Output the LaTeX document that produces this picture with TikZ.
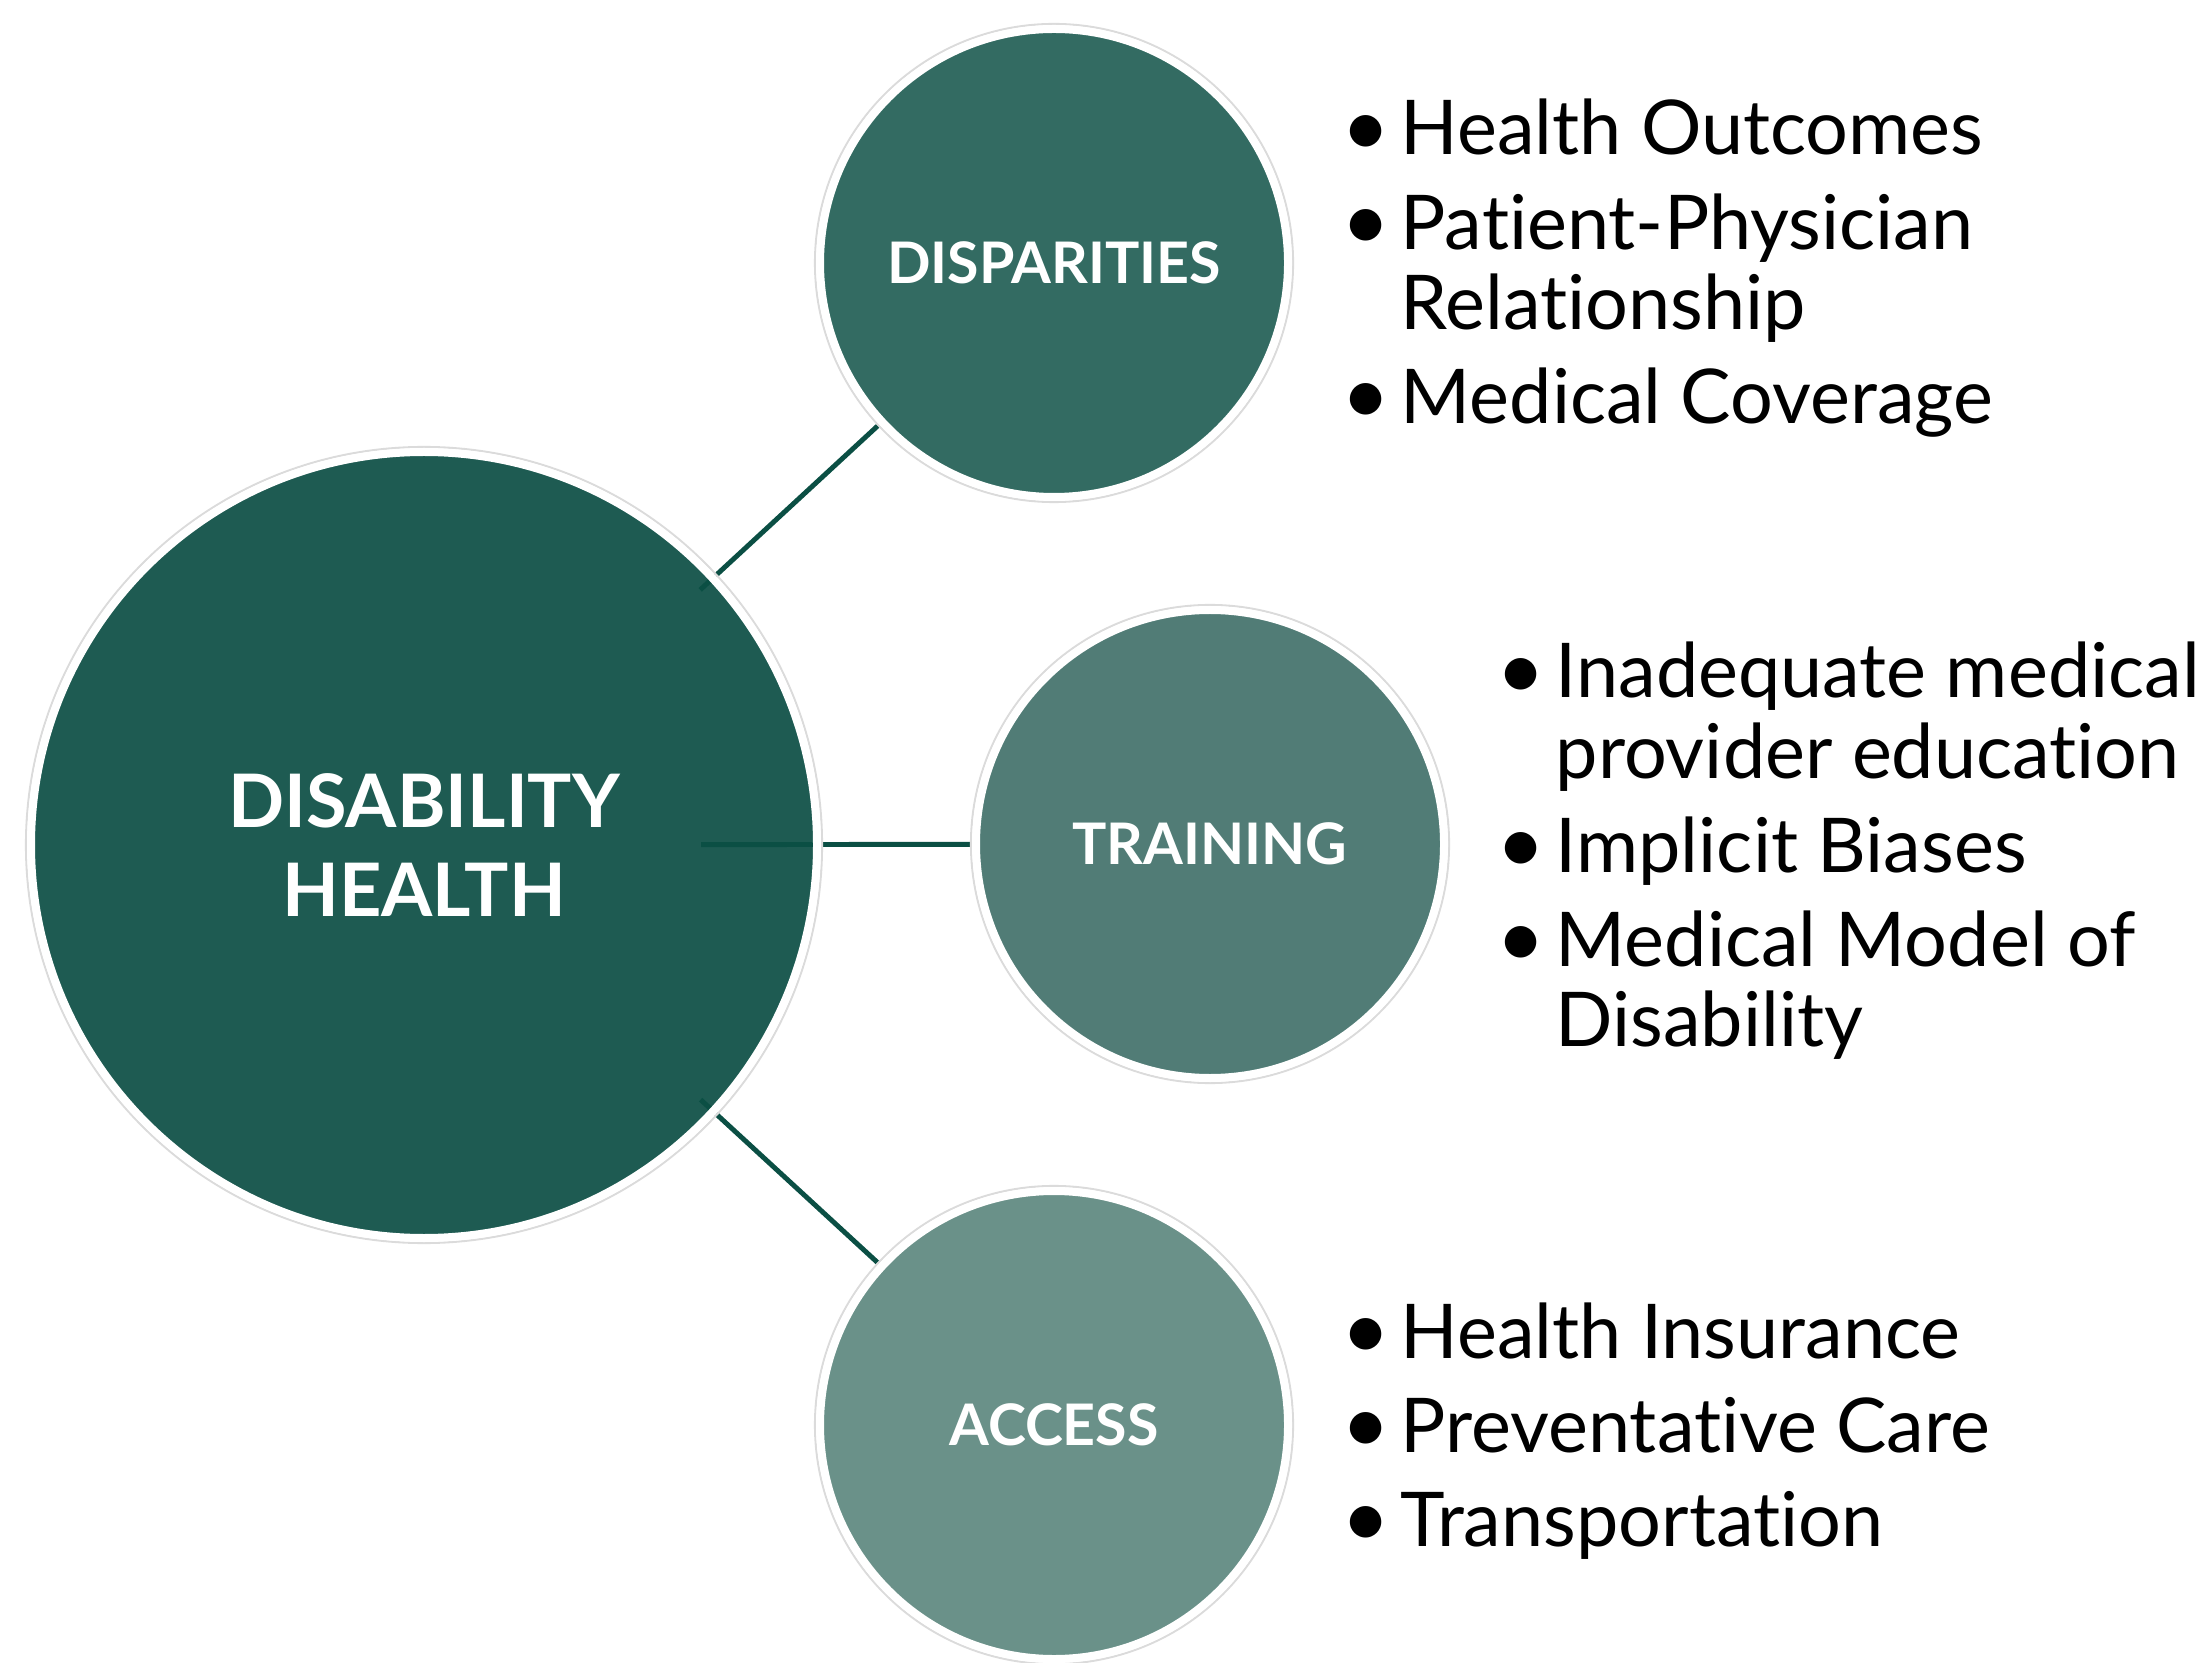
\documentclass[tikz,border=0pt]{standalone}
\usepackage{fontspec}
\setmainfont{Lato}[Ligatures={NoCommon}]
\definecolor{hubgreen}{HTML}{1E5B52}
\definecolor{dispgreen}{HTML}{336B62}
\definecolor{traingreen}{HTML}{517C76}
\definecolor{accessgreen}{HTML}{6A9189}
\definecolor{linkgreen}{HTML}{0B4F44}
\tikzset{
  hub/.style={circle, fill=hubgreen, minimum size=7.86cm, inner sep=0pt,
    text=white, align=center, font=\fontsize{21}{25.3}\selectfont\bfseries},
  topic/.style={circle, fill=#1, minimum size=4.68cm, inner sep=0pt,
    text=white, font=\fontsize{16.3}{20}\selectfont\bfseries},
  link/.style={draw=linkgreen, line width=1.4pt},
  ring/.style={draw=white, line width=0.08cm},
  halo/.style={draw=black!14, line width=0.6pt},
  points/.style={anchor=base west, inner sep=0pt}
}
% one bullet line, continuation lines hang under the text
\newcommand{\pitem}[1]{\par\hangindent=0.62cm\hangafter=1%
  \makebox[0.62cm][l]{\hspace{0.03cm}\raisebox{-0.02em}{\scalebox{1.12}{\textbullet}}}#1}
\newenvironment{pointlist}{\begin{minipage}[t]{8cm}\raggedright
  \fontsize{21.5}{22.8}\selectfont\setlength{\parskip}{0.14cm}}{\end{minipage}}

\begin{document}
\begin{tikzpicture}
  \useasboundingbox (0,0) rectangle (22.06,16.62);

  \node[hub] (health) at (4.24, 8.17) {DISABILITY\\HEALTH};
  \node[topic=dispgreen] (disp) at (10.54, 13.99) {DISPARITIES};
  \node[topic=traingreen] (train) at (12.10, 8.18) {TRAINING};
  \node[topic=accessgreen] (access) at (10.54, 2.37) {ACCESS};

  % connectors
  \draw[link, shorten <=3.76cm, shorten >=2.4cm] (health.center) -- (disp.center);
  \draw[link, shorten <=2.77cm, shorten >=2.4cm] (health.center) -- (train.center);
  \draw[link, shorten <=3.76cm, shorten >=2.4cm] (health.center) -- (access.center);

  % white rims
  \draw[halo] (health.center) circle (3.98);
  \draw[ring] (health.center) circle (3.93);
  \foreach \c in {disp, train, access} {
    \draw[halo] (\c.center) circle (2.39);
    \draw[ring] (\c.center) circle (2.34);
  }

  \node[points] (displist) at (13.38, 15.07) {\begin{pointlist}
    \pitem{Health Outcomes}
    \pitem{Patient-Physician\newline Relationship}
    \pitem{Medical Coverage}
  \end{pointlist}};
  \node[points] (trainlist) at (14.93, 9.64) {\begin{pointlist}
    \pitem{Inadequate medical\newline provider education}
    \pitem{Implicit Biases}
    \pitem{Medical Model of\newline Disability}
  \end{pointlist}};
  \node[points] (accesslist) at (13.38, 3.04) {\begin{pointlist}
    \pitem{Health Insurance}
    \pitem{Preventative Care}
    \pitem{Transportation}
  \end{pointlist}};
\end{tikzpicture}
\end{document}
